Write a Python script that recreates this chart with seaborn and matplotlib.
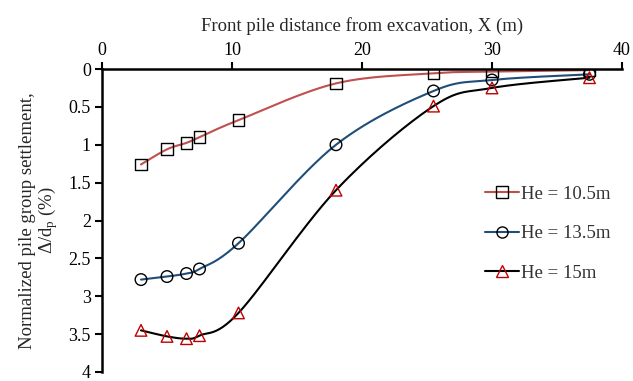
import numpy as np
import pandas as pd
import matplotlib
matplotlib.use("Agg")
import matplotlib.pyplot as plt
import seaborn as sns

x_vals = [3, 5, 6.5, 7.5, 10.5, 18, 25.5, 30, 37.5]
he_105 = [1.26, 1.06, 0.975, 0.90, 0.675, 0.19, 0.057, 0.035, 0.015]
he_135 = [2.78, 2.74, 2.70, 2.64, 2.30, 1.00, 0.29, 0.145, 0.07]
he_15 = [3.45, 3.53, 3.56, 3.52, 3.22, 1.60, 0.49, 0.25, 0.115]
labels = ["He = 10.5m", "He = 13.5m", "He = 15m"]
x_ticks = [0, 10, 20, 30, 40]
y_ticks = [0, 0.5, 1, 1.5, 2, 2.5, 3, 3.5, 4]
y_tick_labels = ["0", "0.5", "1", "1.5", "2", "2.5", "3", "3.5", "4"]

sns.set_style("white")
plt.rcParams["font.family"] = ["Liberation Serif", "DejaVu Serif"]
plt.rcParams["mathtext.fontset"] = "custom"
plt.rcParams["mathtext.rm"] = "Liberation Serif"
plt.rcParams["mathtext.it"] = "Liberation Serif:italic"


def smooth(xs, ys, n=30):
    # Excel-style smoothed line (Catmull-Rom Bezier) through the data points
    xs = np.asarray(xs, float)
    ys = np.asarray(ys, float)
    P = np.column_stack([xs, ys])
    out = []
    for i in range(len(P) - 1):
        p0 = P[i - 1] if i > 0 else P[i]
        p1 = P[i]
        p2 = P[i + 1]
        p3 = P[i + 2] if i + 2 < len(P) else P[i + 1]
        c1 = p1 + (p2 - p0) / 6.0
        c2 = p2 - (p3 - p1) / 6.0
        t = np.linspace(0, 1, n)[:, None]
        seg = ((1 - t) ** 3) * p1 + 3 * ((1 - t) ** 2) * t * c1 + 3 * (1 - t) * t ** 2 * c2 + t ** 3 * p2
        out.append(seg if i == 0 else seg[1:])
    S = np.vstack(out)
    return S[:, 0], S[:, 1]


fig = plt.figure(figsize=(6.33, 3.81), dpi=100)
ax = fig.add_axes([102 / 633, 1 - 372 / 381, 520 / 633, 303 / 381])

series = [
    (he_105, "#c0504d", "s", "black"),
    (he_135, "#1f4e79", "o", "black"),
    (he_15, "black", "^", "#c00000"),
]
handles = []
for (ys, lc, mk, mc), lab in zip(series, labels):
    sx, sy = smooth(x_vals, ys)
    sns.lineplot(x=sx, y=sy, ax=ax, color=lc, lw=1.5, sort=False, estimator=None)
    df = pd.DataFrame({"x": x_vals, "y": ys})
    sns.scatterplot(data=df, x="x", y="y", ax=ax, marker=mk, s=70,
                    facecolors="none", edgecolors=mc, linewidths=1.0, zorder=3)
    h, = ax.plot([], [], color=lc, lw=1.5, marker=mk, ms=8, mfc="none", mec=mc, mew=1.0)
    handles.append(h)

ax.set_xlim(0, 40)
ax.set_ylim(4, 0)
ax.xaxis.tick_top()
ax.xaxis.set_label_position("top")
ax.set_xticks(x_ticks)
ax.set_yticks(y_ticks)
ax.set_yticklabels(y_tick_labels)
ax.tick_params(axis="both", direction="out", length=5, width=1.5, labelsize=13,
               colors="black")
ax.tick_params(axis="x", top=True, bottom=False, pad=2)
ax.tick_params(axis="y", left=True, pad=3)
for s in ["right", "bottom"]:
    ax.spines[s].set_visible(False)
for s in ["left", "top"]:
    ax.spines[s].set_linewidth(1.8)
    ax.spines[s].set_color("black")

ax.set_xlabel("Front pile distance from excavation, X (m)", fontsize=13.5, labelpad=8)
ax.set_ylabel("Normalized pile group settlement,\n$\\Delta$/d$_\\mathrm{p}$ (%)",
              fontsize=13.5, labelpad=6, linespacing=1.0)

leg = ax.legend(handles, labels, loc="upper left", bbox_to_anchor=(0.722, 0.64),
                frameon=False, fontsize=13.5, handlelength=1.8, handletextpad=0.1,
                labelspacing=1.2, borderaxespad=0)
for t in leg.get_texts():
    t.set_color("#333333")

fig.savefig("out.png", dpi=100)
